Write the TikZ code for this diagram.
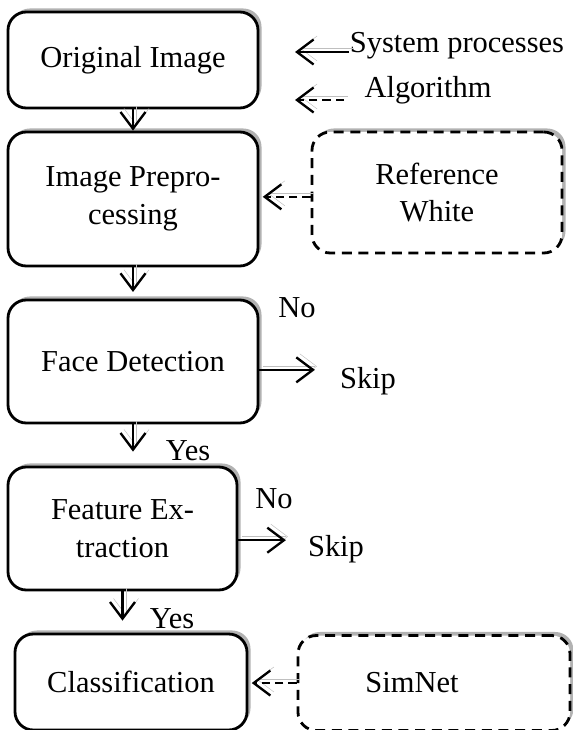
\documentclass[tikz,border=0pt]{standalone}
\usepackage{fontspec}
\setmainfont{Liberation Serif}
\usetikzlibrary{arrows.meta,shadows}

\begin{document}
\begin{tikzpicture}[x=0.03cm,y=-0.03cm,
    font=\fontsize{26}{32.4}\selectfont,
    procbox/.style={draw,line width=2.4pt,rounded corners=0.55cm,fill=white,align=center,
      drop shadow={shadow xshift=3pt,shadow yshift=3pt,fill=gray!60,opacity=1}},
    algbox/.style={procbox,dash pattern=on 0.3cm off 0.2cm},
    flow/.style={-{Straight Barb[length=0.5cm,width=0.75cm,line width=2pt]},line width=2pt,
      preaction={draw=gray!50,transform canvas={xshift=3pt,yshift=3pt}}},
    algflow/.style={flow,dash pattern=on 0.25cm off 0.15cm}]
    \useasboundingbox (0,0) rectangle (573,730);
    % processing chain
    \node[procbox,minimum width=7.5cm,minimum height=2.88cm] (orig) at (133,60) {Original Image};
    \node[procbox,minimum width=7.5cm,minimum height=4.02cm] (prep) at (133,199) {Image Prepro-\\cessing};
    \node[procbox,minimum width=7.5cm,minimum height=3.69cm] (face) at (133,361.5) {Face Detection};
    \node[procbox,minimum width=6.87cm,minimum height=3.69cm] (feat) at (122.5,528.5) {Feature Ex-\\traction};
    \node[procbox,minimum width=6.96cm,minimum height=2.88cm] (class) at (131,682) {Classification};
    % algorithms
    \node[algbox,minimum width=7.5cm,minimum height=3.63cm] (refwhite) at (437,192.5) {Reference\\White};
    \node[algbox,minimum width=8.16cm,minimum height=2.85cm] (simnet) at (434,683) {SimNet\hspace*{1.32cm}};
    % labels
    \node[anchor=base] (no1) at (297,317) {No};
    \node[anchor=base] (skip1) at (368,388) {Skip};
    \node[anchor=base] (yes1) at (188,460) {Yes};
    \node[anchor=base] (no2) at (274,508) {No};
    \node[anchor=base] (skip2) at (336,556) {Skip};
    \node[anchor=base] (yes2) at (172,628) {Yes};
    % legend
    \node[anchor=base] (legsys) at (457,53) {System processes};
    \node[anchor=base] (legalg) at (428,97) {Algorithm};
    \coordinate (systail) at (349,52);
    \coordinate (syshead) at (295,52);
    \coordinate (algtail) at (344,100);
    \coordinate (alghead) at (295,100);
    \draw[flow] (systail) -- (syshead);
    \draw[algflow] (algtail) -- (alghead);
    % connectors
    \draw[flow] (orig) -- (prep);
    \draw[flow,shorten >=0.2cm] (prep) -- (face);
    \draw[flow,shorten >=0.42cm] (face.south) -- (face.south |- feat.north);
    \draw[flow,shorten >=0.36cm] (feat.south) -- (feat.south |- class.north);
    \draw[flow,shorten >=0.63cm] ([yshift=-0.25cm]face.east) -- ([yshift=-0.25cm]face.east -| skip1.west);
    \draw[flow,shorten >=0.54cm] ([yshift=-0.35cm]feat.east) -- ([yshift=-0.35cm]feat.east -| skip2.west);
    \draw[algflow,shorten >=0.1cm] ([yshift=-0.13cm]refwhite.west) -- ([yshift=-0.13cm]refwhite.west -| prep.east);
    \draw[algflow,shorten >=0.1cm] (simnet.west) -- (simnet.west -| class.east);
\end{tikzpicture}
\end{document}
